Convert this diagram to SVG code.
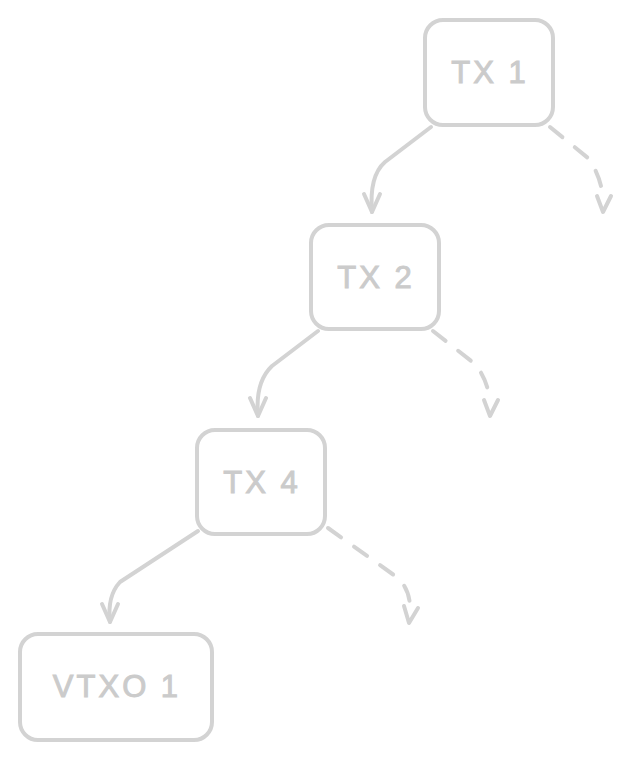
<svg xmlns="http://www.w3.org/2000/svg" width="628" height="760" viewBox="0 0 628 760">
<style>
.box{fill:#ffffff;stroke:#d3d3d3;stroke-width:4;}
.lbl{font-family:"Liberation Sans",Arial,sans-serif;font-size:31px;fill:#cbcbcb;stroke:#cbcbcb;stroke-width:1;text-anchor:middle;dominant-baseline:central;letter-spacing:3px;}
.edge{fill:none;stroke:#d3d3d3;stroke-width:4;stroke-linecap:round;stroke-linejoin:round;}
.dash{stroke-dasharray:16 16;}
</style>
<rect width="628" height="760" fill="#ffffff"/>
<g id="connectors">
  <path class="edge" d="M431,127 L385,162 Q369,176 372,212"/>
  <path class="edge" d="M364,194 L372,212 L380,194"/>
  <path class="edge dash" d="M550,127 L588,158 Q601,176 603,198"/>
  <path class="edge" d="M597,196 L603,212 L611,196"/>
  <path class="edge" d="M318,331 L272,366 Q255,382 258,416"/>
  <path class="edge" d="M250,398 L258,416 L266,398"/>
  <path class="edge dash" d="M433,331 L475,364 Q488,380 490,402"/>
  <path class="edge" d="M484,400 L490,416 L498,400"/>
  <path class="edge" d="M198,531 L120,582 Q107,596 110,622"/>
  <path class="edge" d="M102,604 L110,622 L118,604"/>
  <path class="edge dash" d="M328,528 L398,578 Q410,590 410,608"/>
  <path class="edge" d="M404,606 L409,623 L418,608"/>
</g>
<g id="tx1">
  <rect class="box" x="425" y="20" width="128" height="105" rx="18"/>
  <text class="lbl" x="490" y="72">TX 1</text>
</g>
<g id="tx2">
  <rect class="box" x="311" y="225" width="128" height="104" rx="18"/>
  <text class="lbl" x="376" y="277">TX 2</text>
</g>
<g id="tx4">
  <rect class="box" x="197" y="430" width="128" height="104" rx="18"/>
  <text class="lbl" x="262" y="482">TX 4</text>
</g>
<g id="vtxo1">
  <rect class="box" x="20" y="634" width="192" height="106" rx="18"/>
  <text class="lbl" x="117" y="686">VTXO 1</text>
</g>
</svg>
